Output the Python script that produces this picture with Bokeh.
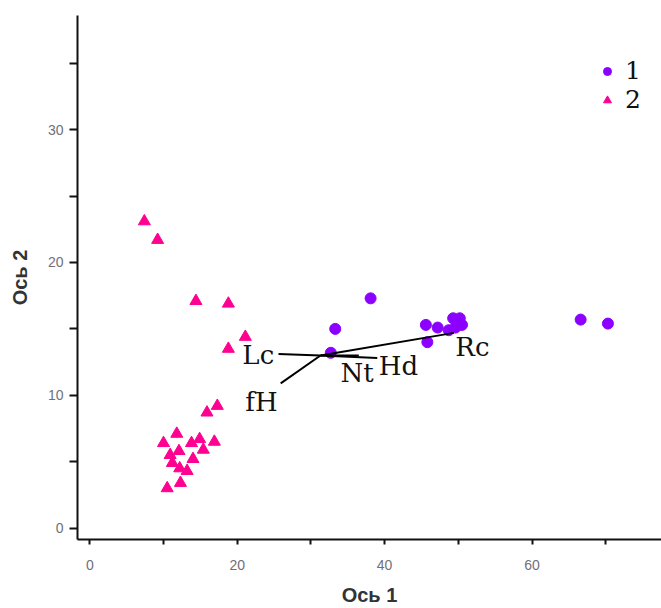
from bokeh.plotting import figure
from bokeh.models import ColumnDataSource, FixedTicker, Range1d
from bokeh.core.properties import value
from bokeh.embed import file_html
from bokeh.resources import INLINE

# group 1 (purple circles)
g1_x = [33.3, 38.1, 32.7, 45.6, 47.2, 45.8, 49.3, 50.2, 50.5, 49.6, 48.7, 66.6, 70.3]
g1_y = [15.0, 17.3, 13.2, 15.3, 15.1, 14.0, 15.8, 15.8, 15.3, 15.1, 14.9, 15.7, 15.4]

# group 2 (pink triangles)
g2_x = [7.4, 9.2, 14.4, 18.8, 21.1, 18.8, 17.3, 15.9, 11.8, 10.0, 13.8, 14.9, 16.9,
        12.1, 10.9, 11.2, 15.4, 14.0, 12.2, 13.2, 12.3, 10.5]
g2_y = [23.1, 21.7, 17.1, 16.9, 14.4, 13.5, 9.2, 8.7, 7.1, 6.4, 6.4, 6.7, 6.5,
        5.8, 5.5, 4.9, 5.9, 5.2, 4.5, 4.3, 3.4, 3.0]

# biplot vectors
vec_names = ["Lc", "fH", "Nt", "Hd", "Rc"]
vec_x0 = [31.3, 31.3, 31.3, 31.3, 31.3]
vec_y0 = [13.0, 13.0, 13.0, 13.0, 13.0]
vec_x1 = [25.6, 25.9, 36.5, 39.0, 49.4]
vec_y1 = [13.1, 10.9, 13.0, 12.8, 14.7]
lab_x = [20.7, 21.1, 34.0, 39.2, 49.6]
lab_y = [13.0, 9.5, 11.7, 12.2, 13.6]

x_ticks = [0, 20, 40, 60]
x_minor = [10, 30, 50, 70]
y_ticks = [0, 10, 20, 30]
y_minor = [5, 15, 25, 35]

p = figure(frame_width=584, frame_height=524, min_border_left=77, min_border_right=0,
           min_border_top=15, min_border_bottom=69,
           x_range=Range1d(-1.67, 77.57), y_range=Range1d(-0.86, 38.6),
           output_backend="svg", toolbar_location=None)
p.outline_line_color = None
p.xgrid.visible = False
p.ygrid.visible = False
p.background_fill_color = "white"
p.border_fill_color = "white"

s1 = p.scatter(g1_x, g1_y, marker="circle", size=11, color="#8B00FF", legend_label="1")
s2 = p.scatter(g2_x, g2_y, marker="triangle", size=12, color="#FF0090", legend_label="2")

p.segment(x0=vec_x0, y0=vec_y0, x1=vec_x1, y1=vec_y1, line_color="black", line_width=2)

src = ColumnDataSource(dict(x=lab_x, y=lab_y, t=vec_names))
p.text(x="x", y="y", text="t", source=src, text_font=value("DejaVu Serif"),
       text_font_size=value("26px"), text_baseline="middle", text_align="left",
       text_color="#111111")

for ax, ticks, minor, out in ((p.xaxis[0], x_ticks, x_minor, 5), (p.yaxis[0], y_ticks, y_minor, 8)):
    ax.ticker = FixedTicker(ticks=ticks, minor_ticks=minor)
    ax.axis_line_width = 2
    ax.axis_line_color = "#111111"
    ax.major_tick_in = 0
    ax.major_tick_out = out
    ax.minor_tick_in = 0
    ax.minor_tick_out = out
    ax.major_tick_line_width = 2
    ax.minor_tick_line_width = 2
    ax.major_tick_line_color = "#111111"
    ax.minor_tick_line_color = "#111111"
    ax.major_label_text_color = "#707078"
    ax.major_label_text_font = "Liberation Sans"
    ax.major_label_text_font_size = "14px"
    ax.axis_label_text_font = "Liberation Sans"
    ax.axis_label_text_font_style = "bold"
    ax.axis_label_text_font_size = "20px"
    ax.axis_label_text_color = "#333333"

p.xaxis.axis_label = "Ось 1"
p.yaxis.axis_label = "Ось 2"
p.xaxis.major_label_standoff = 15
p.xaxis.axis_label_standoff = 11
p.yaxis.major_label_standoff = 6
p.yaxis.axis_label_standoff = 14
p.yaxis.major_label_orientation = "horizontal"

lg = p.legend[0]
lg.location = (520, 425)
lg.border_line_color = None
lg.background_fill_alpha = 0
lg.padding = 0
lg.margin = 0
lg.spacing = 0
lg.glyph_width = 20
lg.glyph_height = 28
lg.label_height = 28
lg.label_standoff = 8
lg.label_text_font = "DejaVu Serif"
lg.label_text_font_size = "25px"
lg.label_text_color = "#111111"

open("out.html", "w").write(file_html(p, INLINE))
